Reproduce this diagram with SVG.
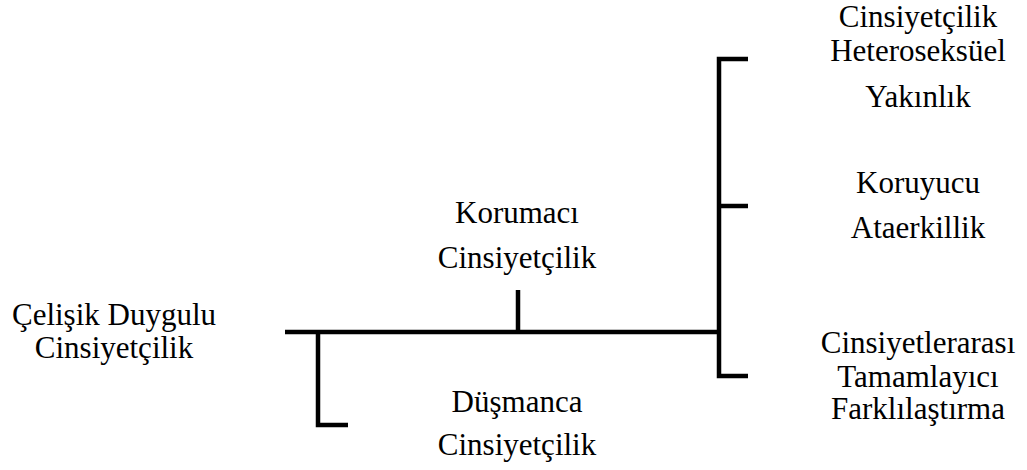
<svg xmlns="http://www.w3.org/2000/svg" width="1027" height="470" viewBox="0 0 1027 470">
<style>
.t{font-family:"Liberation Serif","Times New Roman",serif;font-size:31px;fill:#000;text-anchor:middle}
.ln{stroke:#000;stroke-width:4.5;fill:none;stroke-linecap:butt;stroke-linejoin:miter}
</style>
<rect width="1027" height="470" fill="#fff"/>
<g id="connectors">
<path class="ln" d="M285 332 H720"/>
<path class="ln" d="M518 290 V332"/>
<path class="ln" d="M318 332 V425 H348"/>
<path class="ln" d="M748 59 H719 V376 H748"/>
<path class="ln" d="M719 206 H748"/>
</g>
<g class="t">
<g id="node-root"><text x="114" y="325">Çelişik Duygulu</text><text x="114" y="358">Cinsiyetçilik</text></g>
<g id="node-korumaci"><text x="517" y="223">Korumacı</text><text x="517" y="268">Cinsiyetçilik</text></g>
<g id="node-dusmanca"><text x="517" y="412">Düşmanca</text><text x="517" y="455">Cinsiyetçilik</text></g>
<g id="node-hetero"><text x="918" y="27">Cinsiyetçilik</text><text x="918" y="61">Heteroseksüel</text><text x="918" y="107">Yakınlık</text></g>
<g id="node-koruyucu"><text x="918" y="193">Koruyucu</text><text x="918" y="238">Ataerkillik</text></g>
<g id="node-cinsiyetlerarasi"><text x="918" y="353">Cinsiyetlerarası</text><text x="918" y="387">Tamamlayıcı</text><text x="918" y="419">Farklılaştırma</text></g>
</g>
</svg>
